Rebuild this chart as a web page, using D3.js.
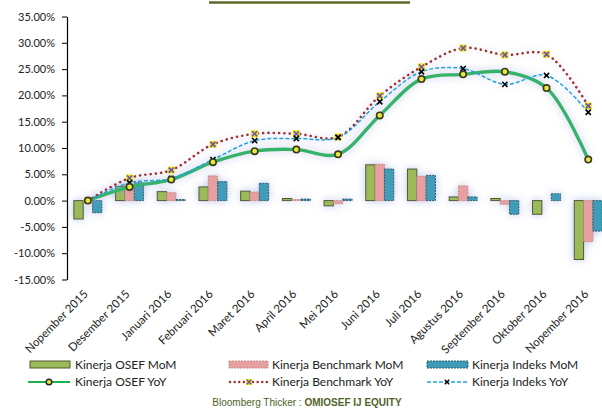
<!DOCTYPE html>
<html><head><meta charset="utf-8">
<script src="https://cdn.jsdelivr.net/npm/d3@7/dist/d3.min.js"></script>
<style>
body{margin:0;background:#fff;}
svg{display:block;font-family:Lato,"Open Sans",sans-serif;}
</style></head>
<body>
<svg id="c" width="602" height="408"></svg>
<script>
const categories = ["Nopember 2015","Desember 2015","Januari 2016","Februari 2016","Maret 2016","April 2016","Mei 2016","Juni 2016","Juli 2016","Agustus 2016","September 2016","Oktober 2016","Nopember 2016"];
const osefMoM   = [-3.5, 2.7, 1.7, 2.6, 1.8, 0.4, -1.0, 6.8, 6.0, 0.7, 0.4, -2.6, -11.2];
const benchMoM  = [-0.2, 3.1, 1.5, 4.7, 1.6, 0.2, -0.6, 6.9, 4.6, 2.8, -0.7, 0.0, -7.8];
const indeksMoM = [-2.3, 3.4, 0.2, 3.6, 3.3, 0.3, 0.3, 6.0, 4.8, 0.7, -2.6, 1.3, -5.8];
const osefYoY   = [0, 2.6, 4.0, 7.3, 9.4, 9.7, 8.8, 16.2, 23.1, 24.0, 24.5, 21.4, 7.8];
const benchYoY  = [0, 4.3, 5.8, 10.7, 12.7, 12.7, 12.1, 19.9, 25.4, 29.0, 27.7, 27.8, 18.0];
const indeksYoY = [0, 3.4, 4.2, 7.8, 11.4, 11.8, 12.0, 18.8, 24.5, 25.1, 22.1, 23.8, 16.8];
const yTicks = [-15,-10,-5,0,5,10,15,20,25,30,35];
const legendLabels = ["Kinerja OSEF MoM","Kinerja Benchmark MoM","Kinerja Indeks MoM","Kinerja OSEF YoY","Kinerja Benchmark YoY","Kinerja Indeks YoY"];
const footerA = "Bloomberg Thicker : ";
const footerB = "OMIOSEF IJ EQUITY";

const svg = d3.select("#c");
const defs = svg.append("defs");
const f = defs.append("filter").attr("id","glow").attr("x","-50%").attr("y","-50%").attr("width","200%").attr("height","200%");
f.append("feGaussianBlur").attr("in","SourceAlpha").attr("stdDeviation",4).attr("result","b");
f.append("feFlood").attr("flood-color","#8c96d2").attr("flood-opacity",0.55);
f.append("feComposite").attr("in2","b").attr("operator","in").attr("result","g");
const m = f.append("feMerge"); m.append("feMergeNode").attr("in","g"); m.append("feMergeNode").attr("in","SourceGraphic");

const x = d3.scaleBand().domain(categories).range([67, 67 + 13*41.7]);
const y = d3.scaleLinear().domain([-15,35]).range([279.5,16.5]);
const cx = d => x(d) + x.bandwidth()/2;
const sub = d3.scaleBand().domain(["o","b","i"]).range([-14,14]);

// title underline (cut off title)
svg.append("line").attr("x1",209).attr("x2",410).attr("y1",2.5).attr("y2",2.5).attr("stroke","#5b6b2a").attr("stroke-width",2.5);

// y axis
const ya = svg.append("g").attr("transform","translate(67,0)")
  .call(d3.axisLeft(y).tickValues(yTicks).tickFormat(d=>d.toFixed(2)+"%").tickSize(5).tickSizeOuter(0));
ya.select(".domain").attr("stroke","#000").attr("stroke-width",1.2);
ya.selectAll(".tick line").attr("stroke","#000");
ya.selectAll("text").attr("font-size",11).attr("fill","#222").attr("font-family","Lato").attr("x",-12);

// x labels
const xa = svg.append("g").attr("transform","translate(0,283)")
  .call(d3.axisBottom(x).tickSize(0));
xa.select(".domain").remove();
xa.selectAll("text").attr("font-size",11.5).attr("fill","#222").attr("font-family","Lato")
  .attr("text-anchor","end").attr("dy","0.35em").attr("y",0)
  .attr("transform","translate(-2,9) rotate(-45)");

// bars
const series = [
  {k:"o", v:osefMoM, fill:"#9bbb59", stroke:"#4f5a33", dash:null},
  {k:"b", v:benchMoM, fill:"#e6a0a0", stroke:"#c98a8a", dash:"2,1"},
  {k:"i", v:indeksMoM, fill:"#3f9cb8", stroke:"#2b5d6c", dash:"2,1"}
];
const bars = svg.append("g").attr("filter","url(#glow)");
series.forEach(s=>{
  bars.selectAll(null).data(categories).join("rect")
    .attr("x", d=>cx(d)+sub(s.k))
    .attr("width", sub.bandwidth())
    .attr("y", (d,i)=>y(Math.max(0,s.v[i])))
    .attr("height",(d,i)=>Math.abs(y(s.v[i])-y(0)))
    .attr("fill",s.fill).attr("stroke",s.stroke).attr("stroke-width",1)
    .attr("stroke-dasharray",s.dash);
});

// lines
const line = vals => d3.line().x((d,i)=>cx(categories[i])).y(d=>y(d)).curve(d3.curveCatmullRom.alpha(0.5))(vals);
const lines = svg.append("g").attr("filter","url(#glow)");
lines.append("path").attr("d",line(osefYoY)).attr("fill","none").attr("stroke","#34b36a").attr("stroke-width",3.4);
lines.append("path").attr("d",line(benchYoY)).attr("fill","none").attr("stroke","#a3322e").attr("stroke-width",2.6).attr("stroke-dasharray","0.1,5.2").attr("stroke-linecap","round");
lines.append("path").attr("d",line(indeksYoY)).attr("fill","none").attr("stroke","#1ea4e0").attr("stroke-width",1.5).attr("stroke-dasharray","4,2");

const mk = svg.append("g");
function xMark(g, px, py, col, s, w){
  g.append("path").attr("d",`M${px-s},${py-s}L${px+s},${py+s}M${px-s},${py+s}L${px+s},${py-s}`).attr("stroke",col).attr("stroke-width",w);
}
categories.forEach((c,i)=>{
  const bx=cx(c), by=y(benchYoY[i]);
  mk.append("rect").attr("x",bx-3.5).attr("y",by-3.5).attr("width",7).attr("height",7).attr("fill","#f2e600");
  xMark(mk,bx,by,"#6a50c0",2.5,1.6);
  xMark(mk,cx(c),y(indeksYoY[i]),"#000",2.6,1.6);
  mk.append("circle").attr("cx",cx(c)).attr("cy",y(osefYoY[i])).attr("r",3.2).attr("fill","#e8e83a").attr("stroke","#3a3a1e").attr("stroke-width",1.6);
});

// legend
const lg = svg.append("g").attr("font-family","Lato").attr("font-size",12).attr("fill","#222");
const cols = [[30,70,75],[229,268,272],[427,468,472]];
const mom = [{fill:"#9bbb59",stroke:"#4f5a33",dash:null},{fill:"#e6a0a0",stroke:"#c98a8a",dash:"2,1"},{fill:"#3f9cb8",stroke:"#2b5d6c",dash:"2,1"}];
mom.forEach((s,i)=>{
  lg.append("rect").attr("x",cols[i][0]).attr("y",361).attr("width",cols[i][1]-cols[i][0]).attr("height",7)
    .attr("fill",s.fill).attr("stroke",s.stroke).attr("stroke-dasharray",s.dash);
  lg.append("text").attr("x",cols[i][2]).attr("y",369).text(legendLabels[i]);
});
const ry = 382;
// osef yoy
lg.append("line").attr("x1",28).attr("x2",70).attr("y1",ry).attr("y2",ry).attr("stroke","#1eb050").attr("stroke-width",2.2);
lg.append("circle").attr("cx",49).attr("cy",ry).attr("r",2.8).attr("fill","#e8e83a").attr("stroke","#222").attr("stroke-width",1.4);
lg.append("text").attr("x",75).attr("y",ry+4).text(legendLabels[3]);
// bench yoy
lg.append("line").attr("x1",230).attr("x2",268).attr("y1",ry).attr("y2",ry).attr("stroke","#a3322e").attr("stroke-width",2.4).attr("stroke-dasharray","0.1,4.5").attr("stroke-linecap","round");
lg.append("rect").attr("x",246).attr("y",ry-3).attr("width",6).attr("height",6).attr("fill","#f2e600");
xMark(lg,249,ry,"#6a50c0",2.2,1.4);
lg.append("text").attr("x",272).attr("y",ry+4).text(legendLabels[4]);
// indeks yoy
lg.append("line").attr("x1",427).attr("x2",468).attr("y1",ry).attr("y2",ry).attr("stroke","#1ea4e0").attr("stroke-width",1.5).attr("stroke-dasharray","4,2");
xMark(lg,447,ry,"#000",2.2,1.4);
lg.append("text").attr("x",472).attr("y",ry+4).text(legendLabels[5]);

// footer
const ft = svg.append("text").attr("x",307).attr("y",406).attr("text-anchor","middle")
  .attr("font-family","Liberation Sans, Arial, sans-serif").attr("font-size",10).attr("fill","#4f6228");
ft.append("tspan").text(footerA);
ft.append("tspan").attr("font-weight","bold").text(footerB);
</script>
</body></html>
